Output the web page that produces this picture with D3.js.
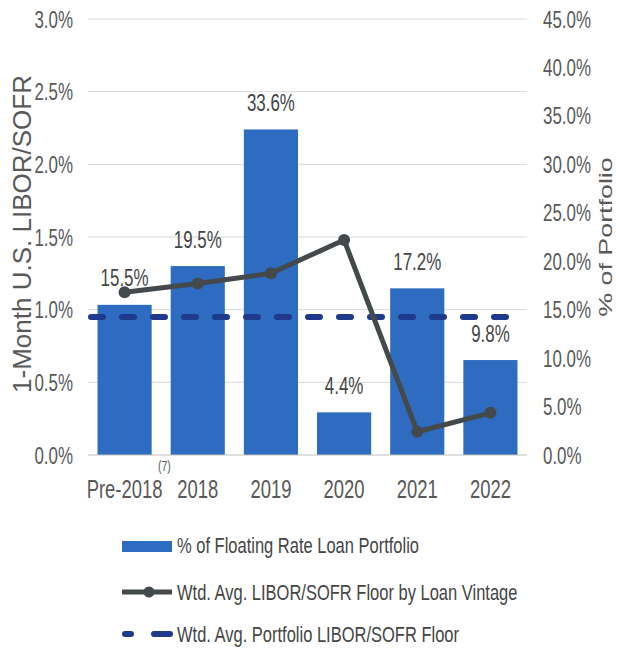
<!DOCTYPE html>
<html>
<head>
<meta charset="utf-8">
<script src="https://cdn.jsdelivr.net/npm/d3@7/dist/d3.min.js"></script>
<style>
  html, body { margin: 0; padding: 0; background: #fff; }
  svg { display: block; }
  text { font-family: "Liberation Sans", Arial, sans-serif; }
</style>
</head>
<body>
<svg id="chart" width="617" height="657"></svg>
<script>
// Loan vintages
const categories = ["Pre-2018", "2018", "2019", "2020", "2021", "2022"];
// % of floating rate loan portfolio (right axis)
const portfolioShare = [15.5, 19.5, 33.6, 4.4, 17.2, 9.8];
// Weighted average LIBOR/SOFR floor by loan vintage (left axis, %)
const vintageFloor = [1.12, 1.18, 1.25, 1.48, 0.16, 0.29];
// Weighted average portfolio LIBOR/SOFR floor (left axis, %)
const portfolioFloor = 0.95;
// Axis ticks
const leftTicks = [0, 0.5, 1.0, 1.5, 2.0, 2.5, 3.0];
const rightTicks = [0, 5, 10, 15, 20, 25, 30, 35, 40, 45];

const svg = d3.select("#chart");
const m = { left: 88, right: 527, top: 19, bottom: 455 };

const x = d3.scaleBand().domain(categories).range([m.left, m.right]).paddingInner(0.26).paddingOuter(0.13);
const yL = d3.scaleLinear().domain([0, 3.0]).range([m.bottom, m.top]);
const yR = d3.scaleLinear().domain([0, 45]).range([m.bottom, m.top]);
const cx = d => x(d) + x.bandwidth() / 2;

const barColor = "#2d6cc0";
const lineColor = "#44494c";
const dashColor = "#1f3a8c";
const tickColor = "#595959";
const textColor = "#454545";

// Condensed text: regular sans squeezed horizontally around its anchor point.
function condensed(sel, size, sx, anchor) {
  return sel
    .attr("font-size", size)
    .attr("text-anchor", anchor || "start")
    .attr("transform", function() {
      const px = +this.getAttribute("data-x"), py = +this.getAttribute("data-y");
      return `translate(${px},${py}) scale(${sx},1)`;
    });
}

// Gridlines
svg.append("g").selectAll("line").data(leftTicks.filter(d => d > 0)).join("line")
  .attr("x1", m.left).attr("x2", m.right)
  .attr("y1", d => yL(d)).attr("y2", d => yL(d))
  .attr("stroke", "#d9d9d9").attr("stroke-width", 1);

// Bars
svg.append("g").selectAll("rect").data(categories).join("rect")
  .attr("x", d => x(d))
  .attr("width", x.bandwidth())
  .attr("y", (d, i) => yR(portfolioShare[i]))
  .attr("height", (d, i) => yR(0) - yR(portfolioShare[i]))
  .attr("fill", barColor);

// X axis baseline
svg.append("line").attr("x1", m.left).attr("x2", m.right)
  .attr("y1", m.bottom).attr("y2", m.bottom)
  .attr("stroke", "#bfbfbf").attr("stroke-width", 1);

// Bar value labels
svg.append("g").selectAll("text").data(categories).join("text")
  .attr("data-x", d => cx(d))
  .attr("data-y", (d, i) => yR(portfolioShare[i]) - 18.5)
  .attr("fill", textColor)
  .text((d, i) => portfolioShare[i].toFixed(1) + "%")
  .call(condensed, 23.5, 0.72, "middle");

// Portfolio floor (dashed)
svg.append("line")
  .attr("x1", m.left + 3).attr("x2", m.right - 7)
  .attr("y1", yL(portfolioFloor)).attr("y2", yL(portfolioFloor))
  .attr("stroke", dashColor).attr("stroke-width", 6)
  .attr("stroke-linecap", "round")
  .attr("stroke-dasharray", "12,19");

// Vintage floor line
const line = d3.line().x((d, i) => cx(categories[i])).y(d => yL(d));
svg.append("path").datum(vintageFloor)
  .attr("d", line).attr("fill", "none")
  .attr("stroke", lineColor).attr("stroke-width", 5).attr("stroke-linejoin", "round");
svg.append("g").selectAll("circle").data(vintageFloor).join("circle")
  .attr("cx", (d, i) => cx(categories[i]))
  .attr("cy", d => yL(d)).attr("r", 6).attr("fill", lineColor);

// Left axis labels
svg.append("g").selectAll("text").data(leftTicks).join("text")
  .attr("data-x", 73).attr("data-y", d => yL(d) + 8.5)
  .attr("fill", tickColor)
  .text(d => d.toFixed(1) + "%")
  .call(condensed, 23.5, 0.72, "end");

// Right axis labels
svg.append("g").selectAll("text").data(rightTicks).join("text")
  .attr("data-x", 543).attr("data-y", d => yR(d) + 8.5)
  .attr("fill", tickColor)
  .text(d => d.toFixed(1) + "%")
  .call(condensed, 23.5, 0.72, "start");

// X axis labels
svg.append("g").selectAll("text").data(categories).join("text")
  .attr("data-x", d => cx(d)).attr("data-y", 498)
  .attr("fill", tickColor)
  .text(d => d)
  .call(condensed, 26, 0.71, "middle");
svg.append("text")
  .attr("data-x", 158).attr("data-y", 471)
  .attr("fill", tickColor)
  .text("(7)")
  .call(condensed, 14, 0.75, "start");

// Axis titles
svg.append("text")
  .attr("transform", "translate(31,234) rotate(-90)")
  .attr("text-anchor", "middle")
  .attr("font-size", 26).attr("fill", tickColor)
  .text("1-Month U.S. LIBOR/SOFR");
svg.append("text")
  .attr("transform", "translate(612,237) rotate(-90) scale(1.45,1)")
  .attr("text-anchor", "middle")
  .attr("font-size", 18.5).attr("fill", tickColor)
  .text("% of Portfolio");

// Legend
const lg = svg.append("g");
const lx = 122, lw = 50, tx = 177;
lg.append("rect").attr("x", lx).attr("y", 541).attr("width", lw).attr("height", 11).attr("fill", barColor);
lg.append("text").attr("data-x", tx).attr("data-y", 553).attr("fill", textColor)
  .text("% of Floating Rate Loan Portfolio")
  .call(condensed, 22, 0.75, "start");
lg.append("line").attr("x1", lx).attr("x2", lx + lw).attr("y1", 592).attr("y2", 592)
  .attr("stroke", lineColor).attr("stroke-width", 5);
lg.append("circle").attr("cx", lx + lw / 2 + 2).attr("cy", 592).attr("r", 5.5).attr("fill", lineColor);
lg.append("text").attr("data-x", tx).attr("data-y", 600).attr("fill", textColor)
  .text("Wtd. Avg. LIBOR/SOFR Floor by Loan Vintage")
  .call(condensed, 22, 0.75, "start");
lg.append("line").attr("x1", lx + 3).attr("x2", lx + lw - 2).attr("y1", 634).attr("y2", 634)
  .attr("stroke", dashColor).attr("stroke-width", 6).attr("stroke-linecap", "round")
  .attr("stroke-dasharray", "6,23,18");
lg.append("text").attr("data-x", tx).attr("data-y", 642).attr("fill", textColor)
  .text("Wtd. Avg. Portfolio LIBOR/SOFR Floor")
  .call(condensed, 22, 0.75, "start");
</script>
</body>
</html>
